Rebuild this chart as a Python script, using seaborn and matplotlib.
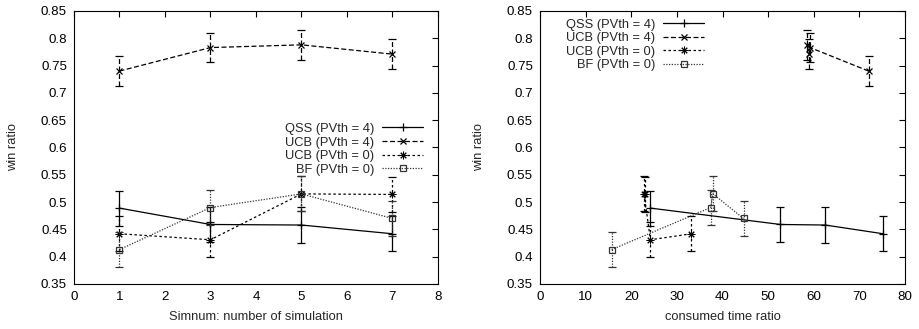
import numpy as np
import pandas as pd
import matplotlib
matplotlib.use("Agg")
import matplotlib.pyplot as plt
import seaborn as sns
from matplotlib.lines import Line2D

# ---- data ----
simnum = [1, 3, 5, 7]
series_names = ["QSS (PVth = 4)", "UCB (PVth = 4)", "UCB (PVth = 0)", "BF (PVth = 0)"]

qss4_win = [0.489, 0.459, 0.458, 0.442]
qss4_err = [0.032, 0.032, 0.033, 0.032]
qss4_time = [24.2, 52.7, 62.5, 75.2]

ucb4_win = [0.740, 0.783, 0.788, 0.771]
ucb4_err = [0.028, 0.027, 0.027, 0.027]
ucb4_time = [72.0, 59.2, 58.5, 59.0]

ucb0_win = [0.442, 0.431, 0.515, 0.514]
ucb0_err = [0.032, 0.032, 0.032, 0.032]
ucb0_time = [33.2, 24.2, 22.8, 23.1]

bf0_win = [0.413, 0.490, 0.515, 0.470]
bf0_err = [0.032, 0.032, 0.032, 0.032]
bf0_time = [15.7, 37.4, 37.9, 44.6]

wins = [qss4_win, ucb4_win, ucb0_win, bf0_win]
errs = [qss4_err, ucb4_err, ucb0_err, bf0_err]
times = [qss4_time, ucb4_time, ucb0_time, bf0_time]

# ---- styles ----
styles = [
    dict(ls="-", marker="+", ms=6, mew=0.9, mfc="black", color="black", dash=None),
    dict(ls=(0, (4, 2)), marker="x", ms=5, mew=0.9, mfc="black", color="black", dash=(0, (4, 2))),
    dict(ls=(0, (2, 2)), marker=(8, 2, 0), ms=5.5, mew=0.7, mfc="black", color="black", dash=(0, (2, 2))),
    dict(ls=(0, (1, 1.2)), marker="s", ms=5, mew=0.9, mfc="none", color="#333333", dash=(0, (1, 1.2))),
]

FS = 9.3
sns.set_theme(style="white")
plt.rcParams["font.family"] = ["Liberation Sans", "DejaVu Sans"]
plt.rcParams["font.size"] = FS

fig = plt.figure(figsize=(9.19, 3.29), dpi=100)
axL = fig.add_axes([0.0805, 0.1368, 0.396, 0.8298])
axR = fig.add_axes([0.5876, 0.1368, 0.3972, 0.8298])


def draw(ax, xs_list):
    for name, xs, ys, es, st in zip(series_names, xs_list, wins, errs, styles):
        df = pd.DataFrame({"x": xs, "y": ys})
        sns.lineplot(data=df, x="x", y="y", sort=False, ax=ax, color=st["color"],
                     linestyle=st["ls"], linewidth=0.9, marker=st["marker"],
                     markersize=st["ms"], markerfacecolor=st["mfc"],
                     markeredgecolor=st["color"], markeredgewidth=st["mew"])
        eb = ax.errorbar(xs, ys, yerr=es, fmt="none", ecolor=st["color"],
                         elinewidth=0.9, capsize=3, capthick=0.9)
        if st["dash"] is not None:
            eb[2][0].set_linestyle(st["dash"])
    ax.set_ylim(0.35, 0.85)
    ax.set_yticks(np.arange(0.35, 0.851, 0.05))
    ax.set_yticklabels(["0.35", "0.4", "0.45", "0.5", "0.55", "0.6", "0.65",
                        "0.7", "0.75", "0.8", "0.85"])
    ax.set_ylabel("win ratio", fontsize=FS, labelpad=16)
    ax.tick_params(direction="in", length=4, width=0.8, top=True, right=True,
                   labelsize=9.6, pad=5, colors="black")
    for s in ax.spines.values():
        s.set_color("black")
        s.set_linewidth(0.8)
    ax.grid(False)


draw(axL, [simnum] * 4)
axL.set_xlim(0, 8)
axL.set_xticks(range(0, 9))
axL.set_xlabel("Simnum: number of simulation", fontsize=FS, labelpad=6)

draw(axR, times)
axR.set_xlim(0, 80)
axR.set_xticks(range(0, 81, 10))
axR.set_xlabel("consumed time ratio", fontsize=FS, labelpad=6)


def make_handles():
    hs = []
    for st in styles:
        hs.append(Line2D([], [], color=st["color"], linestyle=st["ls"], linewidth=0.9,
                         marker=st["marker"], markersize=st["ms"], markeredgewidth=st["mew"],
                         markerfacecolor=st["mfc"], markeredgecolor=st["color"]))
    return hs


for ax, anchor in [(axL, (0.96, 0.59)), (axR, (0.45, 0.972))]:
    leg = ax.legend(make_handles(), series_names, loc="upper right",
                    bbox_to_anchor=anchor, frameon=False, markerfirst=False,
                    handlelength=3.2, handletextpad=0.6, labelspacing=0.12,
                    fontsize=FS, borderaxespad=0, borderpad=0)

fig.savefig("out.png", dpi=100)
